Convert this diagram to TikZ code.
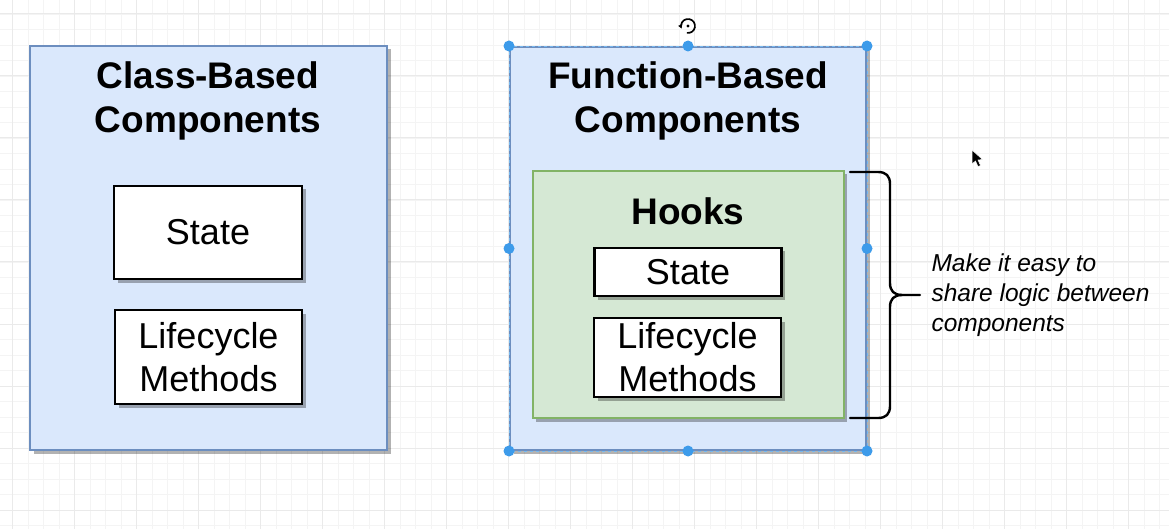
\documentclass[tikz,border=0pt]{standalone}
\usepackage{fontspec}
\setmainfont{Liberation Sans}
\usepackage{xcolor}
\usetikzlibrary{shadows,arrows.meta}

\definecolor{fillblue}{HTML}{DAE8FC}
\definecolor{bordblue}{HTML}{6C8EBF}
\definecolor{fillgreen}{HTML}{D5E8D4}
\definecolor{bordgreen}{HTML}{82B366}
\definecolor{handleblue}{HTML}{3D9BEA}
\definecolor{gridminor}{HTML}{F4F4F4}
\definecolor{gridmajor}{HTML}{EAEAEA}

\begin{document}
\begin{tikzpicture}
[x=1pt,y=-1pt]
\tikzset{
	gridline/.style = {draw=gridminor, line width=0.9pt},
	gridmain/.style = {draw=gridmajor, line width=1pt},
	shade3/.style = {drop shadow={shadow xshift=3.5pt, shadow yshift=-3.5pt, fill=black, opacity=0.3}},
	outerbox/.style = {rectangle, draw=bordblue, fill=fillblue, line width=2pt, shade3, minimum width=357pt, minimum height=404pt},
	hookbox/.style = {rectangle, draw=bordgreen, fill=fillgreen, line width=2pt, shade3, minimum width=311pt, minimum height=247pt},
	itembox/.style = {rectangle, draw=black, fill=white, line width=2.2pt, shade3, inner sep=0pt, align=center,
		font=\fontsize{36}{43}\selectfont},
	titletext/.style = {align=center, font=\bfseries\fontsize{37}{44}\selectfont},
	notetext/.style = {align=left, anchor=west, font=\itshape\fontsize{24.5}{30}\selectfont},
	curlybrace/.style = {draw=black, line width=2.4pt, line cap=round},
	handle/.style = {circle, fill=handleblue, inner sep=0pt, minimum size=11pt}
}

\useasboundingbox (0,0) rectangle (1169,529);
\fill[white] (0,0) rectangle (1169,529);

% background grid
\foreach \gx in {12.5,28,...,1169} \draw[gridline] (\gx,0) -- (\gx,529);
\foreach \gy in {14,29.5,...,529} \draw[gridline] (0,\gy) -- (1169,\gy);
\foreach \gx in {12.5,74.5,...,1169} \draw[gridmain] (\gx,0) -- (\gx,529);
\foreach \gy in {14,76,...,529} \draw[gridmain] (0,\gy) -- (1169,\gy);

% class based side
\node(cbc) [outerbox] at (208.5,248) {};
\node(cbctitle) [titletext] at (208,101) {Class-Based\\Components};
\node(cbcstate) [itembox, minimum width=188pt, minimum height=93pt] at (208,232.5) {State};
\node(cbclife) [itembox, minimum width=187pt, minimum height=94pt] at (208.5,357) {Lifecycle\\Methods};

% function based side
\node(fbc) [outerbox, minimum width=356pt, minimum height=403pt] at (688,248.5) {};
\draw [handleblue!70, line width=0.8pt, dash pattern=on 3pt off 3pt] (fbc.north west) rectangle (fbc.south east);
\node(fbctitle) [titletext] at (688,101) {Function-Based\\Components};
\node(hooks) [hookbox] at (688,294.5) {};
\node(hookstitle) [titletext] at (688,211) {Hooks};
\node(fbcstate) [itembox, minimum width=187pt, minimum height=48pt] at (688,272) {State};
\node(fbclife) [itembox, minimum width=187pt, minimum height=79pt] at (687.5,357.5) {Lifecycle\\Methods};

% brace and note
\coordinate (btop) at (850,172);
\coordinate (bbot) at (850,418);
\coordinate (btip) at (920,295);
\draw [curlybrace] (btop) -- (878,172) .. controls (886,172) and (890,176) .. (890,184)
	-- (890,283) .. controls (890,291) and (894,295) .. (902,295) -- (btip);
\draw [curlybrace] (902,295) .. controls (894,295) and (890,299) .. (890,307)
	-- (890,406) .. controls (890,414) and (886,418) .. (878,418) -- (bbot);
\node(note) [notetext] at (928,295) {Make it easy to\\share logic between\\components};

% selection handles
\foreach \h in {north west,north,north east,west,east,south west,south,south east}
	\node [handle] at (fbc.\h) {};

% rotate icon and cursor
\draw [line width=1.7pt, -{Latex[length=3.5pt,width=5pt]}] (688,26) ++(100:7) arc (100:-200:7);
\fill (688,26) circle (1.7pt);
\fill [black, draw=white, line width=0.5pt] (972,150) -- (972,164) -- (975.5,161) -- (978,166.5) -- (980.5,165.5) -- (978,160) -- (982.5,159.5) -- cycle;

\end{tikzpicture}
\end{document}
